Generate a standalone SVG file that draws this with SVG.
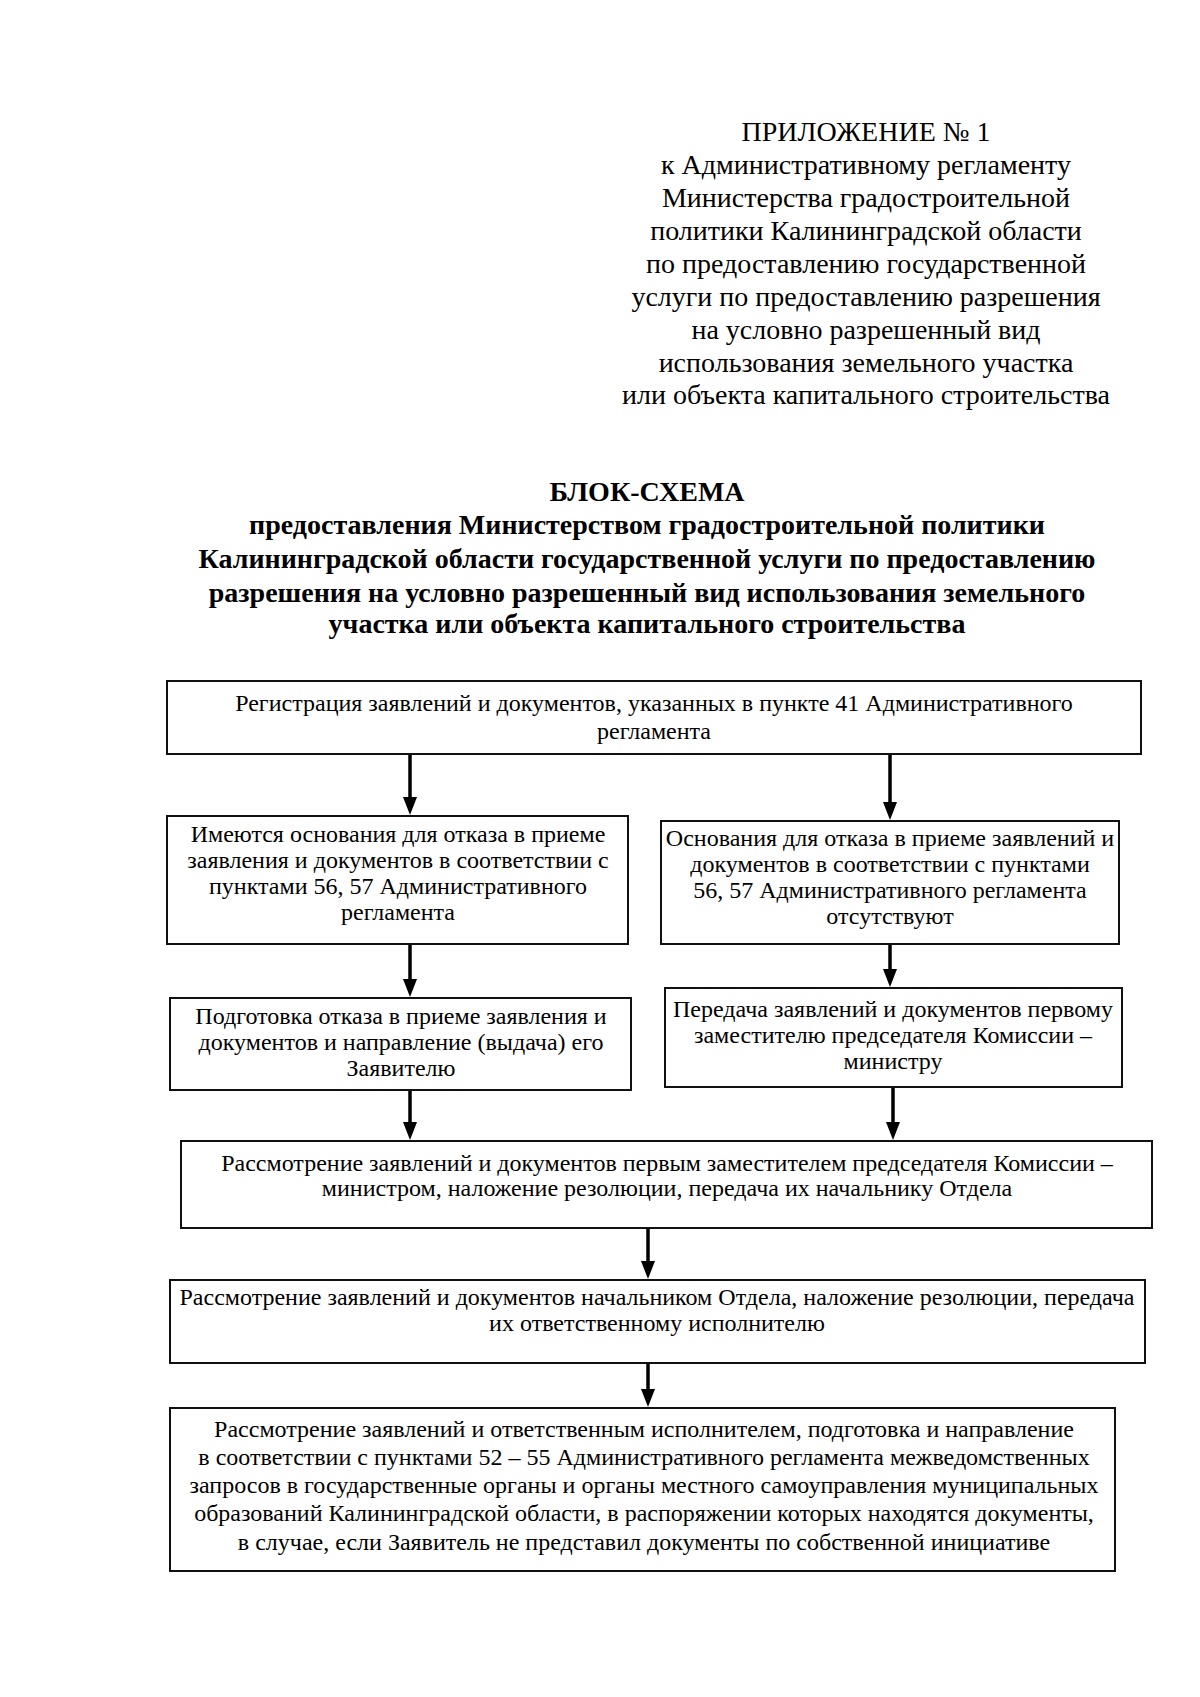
<svg xmlns="http://www.w3.org/2000/svg" width="1200" height="1697" viewBox="0 0 1200 1697">
<style>
.hd{font-family:"Liberation Serif","Times New Roman",serif;font-size:28px;fill:#000;text-anchor:middle}
.tt{font-family:"Liberation Serif","Times New Roman",serif;font-size:28px;font-weight:bold;fill:#000;text-anchor:middle}
.bx{fill:#fff;stroke:#111;stroke-width:2}
.tx{font-family:"Liberation Serif","Times New Roman",serif;font-size:24px;fill:#000;text-anchor:middle}
.ar{stroke:#000;stroke-width:3.5;fill:none}
</style>
<defs>
<marker id="ah" markerUnits="userSpaceOnUse" markerWidth="18" markerHeight="14" refX="1" refY="7" orient="auto" viewBox="0 0 18 14">
<path d="M0,0 L18,7 L0,14 Z" fill="#000"/>
</marker>
</defs>
<rect width="1200" height="1697" fill="#fff"/>
<g id="header">
<text class="hd" x="866" y="141">ПРИЛОЖЕНИЕ № 1</text>
<text class="hd" x="866" y="174">к Административному регламенту</text>
<text class="hd" x="866" y="207">Министерства градостроительной</text>
<text class="hd" x="866" y="240">политики Калининградской области</text>
<text class="hd" x="866" y="273">по предоставлению государственной</text>
<text class="hd" x="866" y="306">услуги по предоставлению разрешения</text>
<text class="hd" x="866" y="339">на условно разрешенный вид</text>
<text class="hd" x="866" y="372">использования земельного участка</text>
<text class="hd" x="866" y="404">или объекта капитального строительства</text>
</g>
<g id="title">
<text class="tt" x="647" y="501">БЛОК-СХЕМА</text>
<text class="tt" x="647" y="534">предоставления Министерством градостроительной политики</text>
<text class="tt" x="647" y="568">Калининградской области государственной услуги по предоставлению</text>
<text class="tt" x="647" y="602">разрешения на условно разрешенный вид использования земельного</text>
<text class="tt" x="647" y="633">участка или объекта капитального строительства</text>
</g>
<g id="connectors">
<line class="ar" x1="410" y1="754" x2="410" y2="798" marker-end="url(#ah)"/>
<line class="ar" x1="890" y1="754" x2="890" y2="803" marker-end="url(#ah)"/>
<line class="ar" x1="410" y1="944" x2="410" y2="980" marker-end="url(#ah)"/>
<line class="ar" x1="890" y1="944" x2="890" y2="970" marker-end="url(#ah)"/>
<line class="ar" x1="410" y1="1090" x2="410" y2="1123" marker-end="url(#ah)"/>
<line class="ar" x1="893" y1="1087" x2="893" y2="1123" marker-end="url(#ah)"/>
<line class="ar" x1="648" y1="1228" x2="648" y2="1262" marker-end="url(#ah)"/>
<line class="ar" x1="648" y1="1363" x2="648" y2="1390" marker-end="url(#ah)"/>
</g>
<g id="n1">
<rect class="bx" x="167" y="681" width="974" height="73"/>
<text class="tx" x="654" y="711">Регистрация заявлений и документов, указанных в пункте 41 Административного</text>
<text class="tx" x="654" y="739">регламента</text>
</g>
<g id="n2">
<rect class="bx" x="167" y="816" width="461" height="128"/>
<text class="tx" x="398" y="842">Имеются основания для отказа в приеме</text>
<text class="tx" x="398" y="868">заявления и документов в соответствии с</text>
<text class="tx" x="398" y="894">пунктами 56, 57 Административного</text>
<text class="tx" x="398" y="920">регламента</text>
</g>
<g id="n3">
<rect class="bx" x="661" y="821" width="458" height="123"/>
<text class="tx" x="890" y="846">Основания для отказа в приеме заявлений и</text>
<text class="tx" x="890" y="872">документов в соответствии с пунктами</text>
<text class="tx" x="890" y="898">56, 57 Административного регламента</text>
<text class="tx" x="890" y="924">отсутствуют</text>
</g>
<g id="n4">
<rect class="bx" x="170" y="998" width="461" height="92"/>
<text class="tx" x="401" y="1024">Подготовка отказа в приеме заявления и</text>
<text class="tx" x="401" y="1050">документов и направление (выдача) его</text>
<text class="tx" x="401" y="1076">Заявителю</text>
</g>
<g id="n5">
<rect class="bx" x="665" y="988" width="457" height="99"/>
<text class="tx" x="893" y="1017">Передача заявлений и документов первому</text>
<text class="tx" x="893" y="1043">заместителю председателя Комиссии –</text>
<text class="tx" x="893" y="1069">министру</text>
</g>
<g id="n6">
<rect class="bx" x="181" y="1141" width="971" height="87"/>
<text class="tx" x="667" y="1171">Рассмотрение заявлений и документов первым заместителем председателя Комиссии –</text>
<text class="tx" x="667" y="1196">министром, наложение резолюции, передача их начальнику Отдела</text>
</g>
<g id="n7">
<rect class="bx" x="170" y="1280" width="975" height="83"/>
<text class="tx" x="657" y="1305">Рассмотрение заявлений и документов начальником Отдела, наложение резолюции, передача</text>
<text class="tx" x="657" y="1331">их ответственному исполнителю</text>
</g>
<g id="n8">
<rect class="bx" x="170" y="1408" width="945" height="163"/>
<text class="tx" x="644" y="1437">Рассмотрение заявлений и ответственным исполнителем, подготовка и направление</text>
<text class="tx" x="644" y="1465">в соответствии с пунктами 52 – 55 Административного регламента межведомственных</text>
<text class="tx" x="644" y="1493">запросов в государственные органы и органы местного самоуправления муниципальных</text>
<text class="tx" x="644" y="1521">образований Калининградской области, в распоряжении которых находятся документы,</text>
<text class="tx" x="644" y="1550">в случае, если Заявитель не представил документы по собственной инициативе</text>
</g>
</svg>
